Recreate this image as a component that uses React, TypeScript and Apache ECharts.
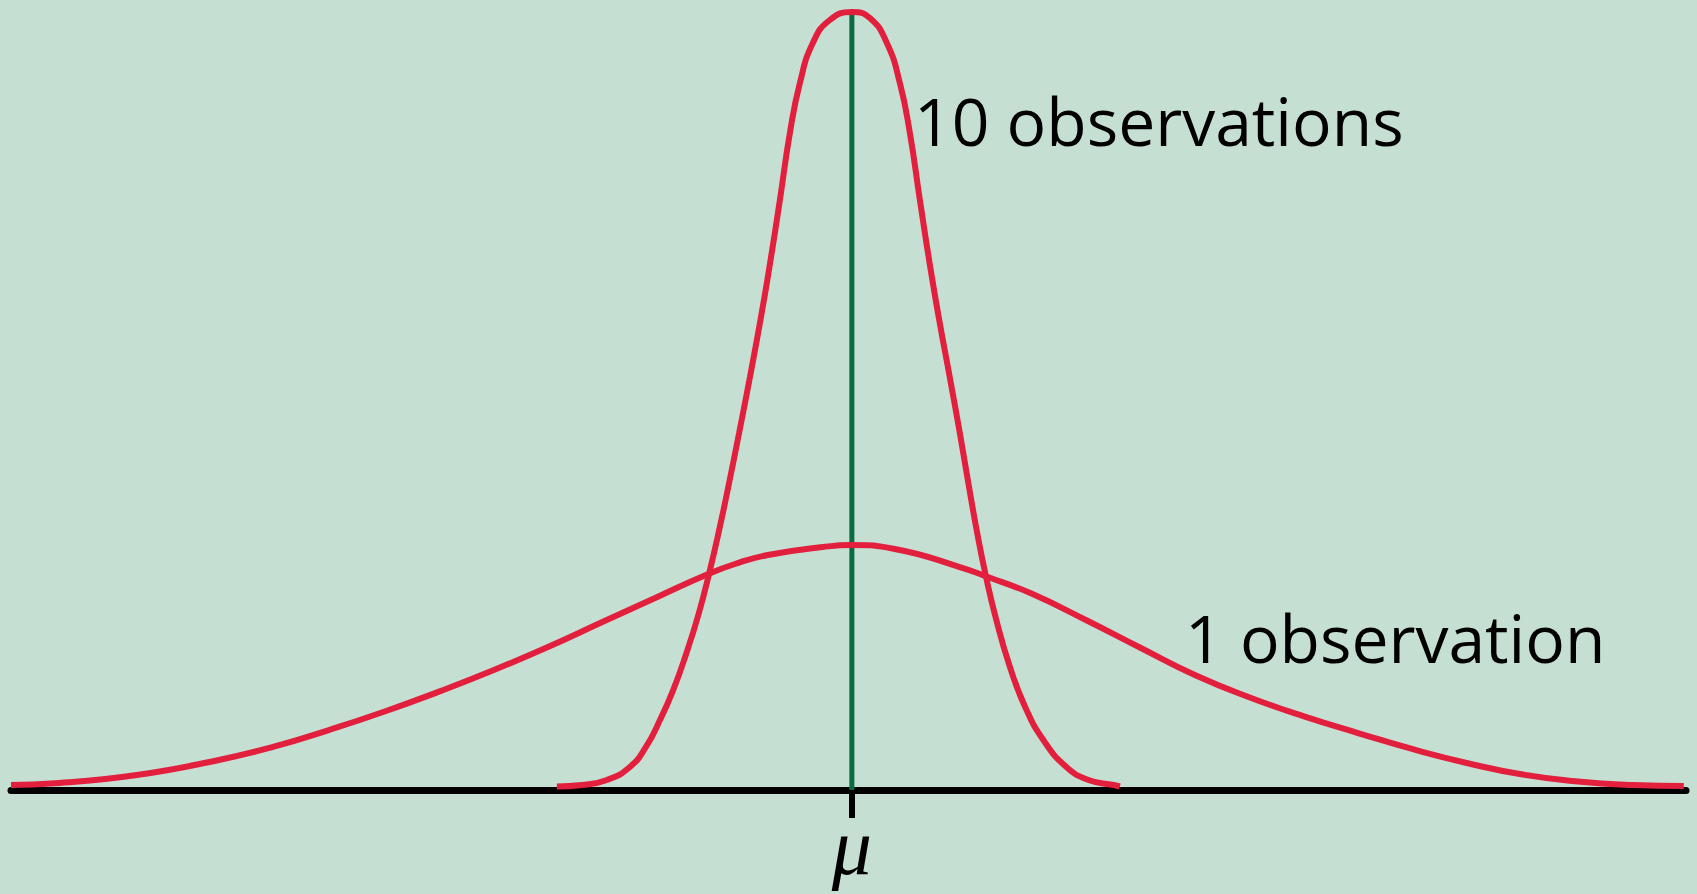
import React, { useEffect, useRef } from "react";
import * as echarts from "echarts";

// x positions in units relative to the mean (μ = 0); y values are relative density (tall peak = 1)
const wideX = [-10.0, -9.478, -8.503, -7.528, -6.874, -6.22, -5.565, -4.911, -4.257, -3.615, -2.961, -2.307, -1.736, -1.391, -0.999, -0.345, 0, 0.511, 1.284, 1.617, 2.129, 2.783, 3.437, 4.079, 4.733, 5.387, 6.029, 6.683, 7.337, 7.979, 8.633, 9.287, 9.894];
const wideY = [0.0064, 0.0086, 0.0193, 0.0386, 0.0557, 0.0771, 0.1006, 0.1264, 0.1542, 0.1838, 0.2163, 0.2485, 0.2763, 0.2905, 0.3021, 0.3123, 0.3149, 0.3098, 0.2866, 0.2738, 0.2528, 0.2185, 0.1825, 0.1478, 0.1189, 0.0942, 0.0729, 0.0521, 0.0341, 0.0199, 0.0109, 0.0064, 0.0051];

const tallX = [-3.508, -3.211, -2.914, -2.64, -2.449, -2.282, -2.125, -1.967, -1.819, -1.696, -1.578, -1.465, -1.341, -1.212, -1.087, -0.98, -0.856, -0.737, -0.618, -0.464, -0.262, 0, 0.214, 0.416, 0.571, 0.69, 0.809, 0.932, 1.039, 1.164, 1.284, 1.379, 1.484, 1.596, 1.718, 1.88, 2.061, 2.277, 2.551, 2.814, 3.116, 3.187];
const tallY = [0.0045, 0.0064, 0.0129, 0.0296, 0.0553, 0.09, 0.1285, 0.1761, 0.2275, 0.2789, 0.3342, 0.392, 0.4589, 0.5308, 0.6041, 0.6722, 0.7584, 0.8445, 0.9087, 0.9602, 0.9897, 1.0, 0.9923, 0.9602, 0.9087, 0.8445, 0.7584, 0.6722, 0.6041, 0.5308, 0.4589, 0.3985, 0.3342, 0.2738, 0.2185, 0.1581, 0.1067, 0.0643, 0.0296, 0.0129, 0.0064, 0.0045];

const meanX = [0, 0];
const meanY = [0, 1];

const tickValues = [0];
const tickLabels = ["μ"];
const labelTall = "10 observations";
const labelWide = "1 observation";

const zip = (xs: number[], ys: number[]) => xs.map((x, i) => [x, ys[i]]);

export default function App() {
  const ref = useRef<HTMLDivElement>(null);
  useEffect(() => {
    if (!ref.current) return;
    const chart = echarts.init(ref.current, null, { renderer: "svg" });
    const red = "#e21f3d";
    chart.setOption({
      animation: false,
      backgroundColor: "#c6dfd3",
      grid: { left: 11, right: 11, top: 12, bottom: 104 },
      xAxis: {
        type: "value",
        min: -10,
        max: 9.92,
        interval: 10,
        splitLine: { show: false },
        axisLine: { show: true, onZero: false, lineStyle: { color: "#000", width: 7 } },
        axisTick: {
          show: true,
          customValues: tickValues,
          length: 28,
          lineStyle: { color: "#000", width: 6 },
        },
        axisLabel: {
          show: true,
          customValues: tickValues,
          formatter: () => tickLabels[0],
          margin: 17,
          fontFamily: "Liberation Serif",
          fontStyle: "italic",
          fontSize: 80,
          color: "#000",
        },
      },
      yAxis: {
        type: "value",
        min: 0,
        max: 1,
        show: false,
        splitLine: { show: false },
      },
      series: [
        {
          type: "line",
          data: zip(meanX, meanY),
          symbol: "none",
          lineStyle: { color: "#0d6b42", width: 5 },
          z: 1,
        },
        {
          type: "line",
          data: zip(wideX, wideY),
          symbol: "none",
          smooth: 0.5,
          lineStyle: { color: red, width: 6 },
          z: 2,
        },
        {
          type: "line",
          data: zip(tallX, tallY),
          symbol: "none",
          smooth: 0.5,
          lineStyle: { color: red, width: 6 },
          z: 3,
        },
      ],
      graphic: [
        {
          type: "text",
          left: 914,
          top: 87,
          style: {
            text: labelTall,
            font: "66px 'Open Sans'",
            fill: "#000",
          },
        },
        {
          type: "text",
          left: 1185,
          top: 604,
          style: {
            text: labelWide,
            font: "66px 'Open Sans'",
            fill: "#000",
          },
        },
      ],
    });
    return () => chart.dispose();
  }, []);
  return (
    <div
      ref={ref}
      style={{ position: "fixed", left: 0, top: 0, width: 1697, height: 894, background: "#c6dfd3" }}
    />
  );
}
